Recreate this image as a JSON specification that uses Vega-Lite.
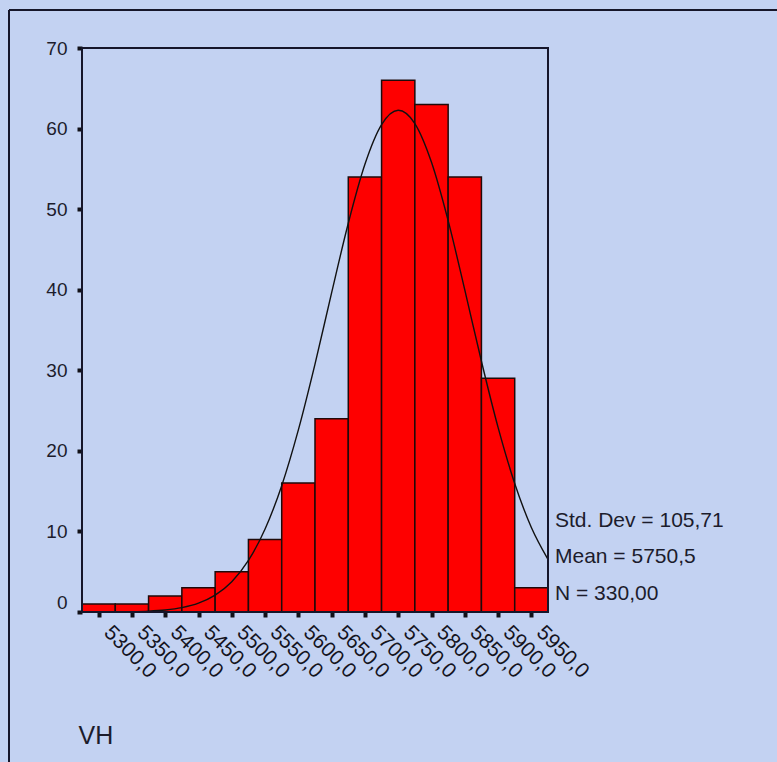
{
  "$schema": "https://vega.github.io/schema/vega-lite/v6.json",
  "autosize": {"type": "none"},
  "padding": {"left": 9, "top": 10, "right": 0, "bottom": 0},
  "width": 768,
  "height": 752,
  "background": "#c3d2f2",
  "config": {
    "font": "Liberation Sans",
    "view": {"stroke": null, "fill": "#c3d2f2"},
    "axis": {"labelFont": "Liberation Sans", "titleFont": "Liberation Sans"}
  },
  "datasets": {
    "bins": [
      {"lo": 5275, "hi": 5325, "n": 1},
      {"lo": 5325, "hi": 5375, "n": 1},
      {"lo": 5375, "hi": 5425, "n": 2},
      {"lo": 5425, "hi": 5475, "n": 3},
      {"lo": 5475, "hi": 5525, "n": 5},
      {"lo": 5525, "hi": 5575, "n": 9},
      {"lo": 5575, "hi": 5625, "n": 16},
      {"lo": 5625, "hi": 5675, "n": 24},
      {"lo": 5675, "hi": 5725, "n": 54},
      {"lo": 5725, "hi": 5775, "n": 66},
      {"lo": 5775, "hi": 5825, "n": 63},
      {"lo": 5825, "hi": 5875, "n": 54},
      {"lo": 5875, "hi": 5925, "n": 29},
      {"lo": 5925, "hi": 5975, "n": 3}
    ],
    "normal": [
      {"vh": 5275, "freq": 0.003},
      {"vh": 5300, "freq": 0.007},
      {"vh": 5325, "freq": 0.019},
      {"vh": 5350, "freq": 0.048},
      {"vh": 5375, "freq": 0.113},
      {"vh": 5400, "freq": 0.255},
      {"vh": 5425, "freq": 0.544},
      {"vh": 5450, "freq": 1.095},
      {"vh": 5475, "freq": 2.087},
      {"vh": 5500, "freq": 3.755},
      {"vh": 5525, "freq": 6.40},
      {"vh": 5550, "freq": 10.30},
      {"vh": 5575, "freq": 15.68},
      {"vh": 5600, "freq": 22.60},
      {"vh": 5625, "freq": 30.77},
      {"vh": 5650, "freq": 39.63},
      {"vh": 5675, "freq": 48.25},
      {"vh": 5700, "freq": 55.56},
      {"vh": 5725, "freq": 60.48},
      {"vh": 5750, "freq": 62.27},
      {"vh": 5775, "freq": 60.62},
      {"vh": 5800, "freq": 55.81},
      {"vh": 5825, "freq": 48.57},
      {"vh": 5850, "freq": 39.98},
      {"vh": 5875, "freq": 31.12},
      {"vh": 5900, "freq": 22.91},
      {"vh": 5925, "freq": 15.95},
      {"vh": 5950, "freq": 10.49},
      {"vh": 5975, "freq": 6.53}
    ]
  },
  "resolve": {
    "scale": {"x": "independent", "y": "independent"},
    "axis": {"x": "independent", "y": "independent"}
  },
  "layer": [
    {
      "layer": [
        {
          "data": {"name": "bins"},
          "mark": {"type": "rect", "fill": "#fe0000", "stroke": "#1e0a0a", "strokeWidth": 1.5},
          "encoding": {
            "x": {
              "field": "lo",
              "type": "quantitative",
              "scale": {"domain": [5275, 5975], "range": [73, 539], "nice": false, "zero": false},
              "axis": {
                "orient": "bottom",
                "offset": -150,
                "values": [5300, 5350, 5400, 5450, 5500, 5550, 5600, 5650, 5700, 5750, 5800, 5850, 5900, 5950],
                "domain": false,
                "grid": false,
                "tickSize": 5,
                "tickWidth": 4,
                "tickColor": "#111118",
                "labelAngle": 45,
                "labelAlign": "left",
                "labelBaseline": "middle",
                "labelFontSize": 21,
                "labelColor": "#14141e",
                "labelPadding": 12,
                "labelOffset": 8,
                "labelOverlap": false,
                "labelFlush": false,
                "labelBound": false,
                "labelExpr": "format(datum.value, 'd') + ',0'",
                "title": "VH",
                "titleFontSize": 25,
                "titleFontWeight": "normal",
                "titleColor": "#1c1c2c",
                "titleAnchor": "start",
                "titleAlign": "left",
                "titleBaseline": "alphabetic",
                "titleX": 69,
                "titleY": 131
              }
            },
            "x2": {"field": "hi"},
            "y": {
              "field": "n",
              "type": "quantitative",
              "scale": {"domain": [0, 70], "range": [602, 38], "nice": false},
              "axis": {
                "orient": "left",
                "offset": -73,
                "values": [0, 10, 20, 30, 40, 50, 60, 70],
                "domain": false,
                "grid": false,
                "tickSize": 5,
                "tickWidth": 4,
                "tickColor": "#111118",
                "labelFontSize": 19,
                "labelColor": "#1c1c2c",
                "labelPadding": 10,
                "labelOverlap": false,
                "labelFlush": false,
                "labelBound": false,
                "labelBaseline": {"condition": {"test": "datum.value === 0", "value": "bottom"}, "value": "middle"},
                "title": null
              }
            },
            "y2": {"datum": 0}
          }
        },
        {
          "data": {"name": "normal"},
          "mark": {"type": "line", "color": "#111111", "strokeWidth": 1.4, "interpolate": "monotone"},
          "encoding": {
            "x": {"field": "vh", "type": "quantitative"},
            "y": {"field": "freq", "type": "quantitative"}
          }
        },
        {
          "data": {"values": [{}]},
          "mark": {"type": "rect", "fill": null, "stroke": "#16162a", "strokeWidth": 2},
          "encoding": {
            "x": {"datum": 5275},
            "x2": {"datum": 5975},
            "y": {"datum": 0},
            "y2": {"datum": 70}
          }
        },
        {
          "data": {"values": [{"stats": "Std. Dev = 105,71\nMean = 5750,5\nN = 330,00"}]},
          "mark": {"type": "text", "lineBreak": "\n", "align": "left", "baseline": "alphabetic", "dx": 7, "fontSize": 21, "lineHeight": 36.5, "color": "#1c1c2c"},
          "encoding": {
            "x": {"datum": 5975},
            "y": {"datum": 10.55},
            "text": {"field": "stats"}
          }
        }
      ]
    },
    {
      "data": {"values": [{}]},
      "layer": [
        {
          "mark": {"type": "rule", "color": "#16162a", "strokeWidth": 2},
          "encoding": {
            "x": {"datum": 0, "type": "quantitative", "scale": {"domain": [0, 1]}, "axis": null},
            "y": {"datum": 0, "type": "quantitative", "scale": {"domain": [0, 1]}, "axis": null},
            "y2": {"datum": 1}
          }
        },
        {
          "mark": {"type": "rule", "color": "#16162a", "strokeWidth": 2},
          "encoding": {
            "x": {"datum": 0, "type": "quantitative", "scale": {"domain": [0, 1]}, "axis": null},
            "x2": {"datum": 1},
            "y": {"datum": 1, "type": "quantitative", "scale": {"domain": [0, 1]}, "axis": null}
          }
        }
      ]
    }
  ]
}
